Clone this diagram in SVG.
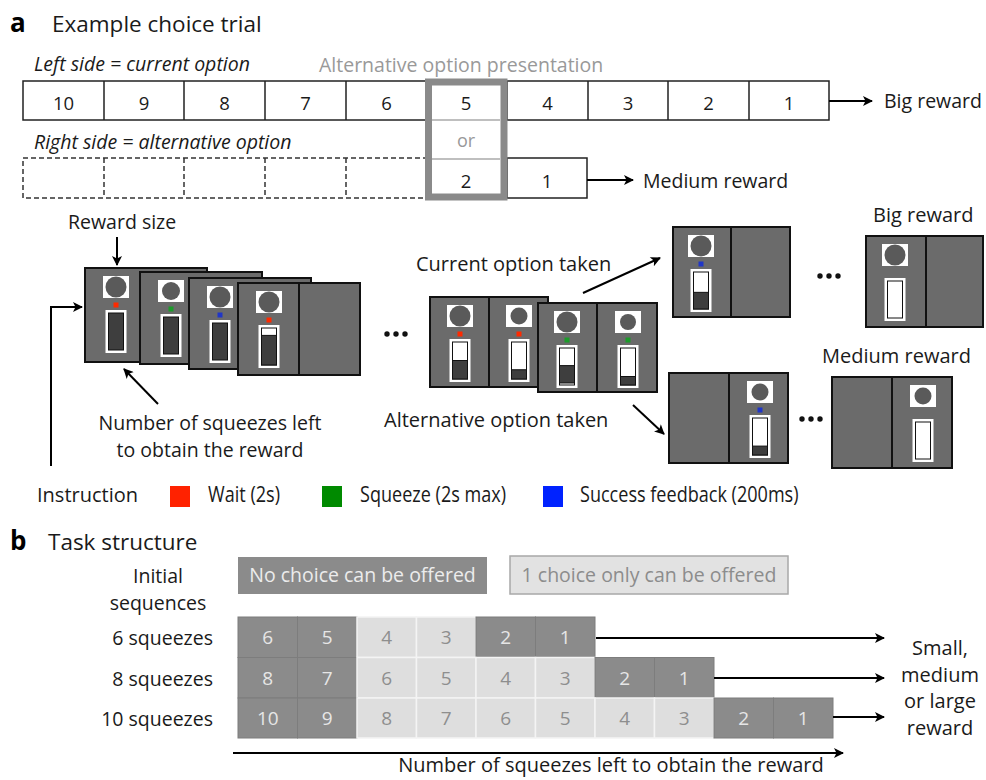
<svg xmlns="http://www.w3.org/2000/svg" width="986" height="780" viewBox="0 0 986 780">
<defs>
<style>
text{font-family:"Open Sans","Noto Sans",sans-serif;fill:#1a1a1a}
.h{font-size:22.5px}
.lab{font-size:26px;font-weight:bold;fill:#000}
.t{font-size:20px}
.it{font-size:19.5px;font-style:italic}
.num{font-size:18.5px;text-anchor:middle}
.gray{fill:#999}
.cell{fill:#fff;stroke:#222;stroke-width:1.5}
.dash{fill:none;stroke:#333;stroke-width:1.5;stroke-dasharray:5 3}
.scr{fill:#6b6b6b;stroke:#111;stroke-width:2}
.div{stroke:#111;stroke-width:2}
.sq{fill:#fff}
.ci{fill:#5a5a5a}
.gw{fill:#fff}
.gi{fill:#fff;stroke:#111;stroke-width:1}
.gd{fill:#3e3e3e;stroke:#111;stroke-width:1}
.red{fill:#ff2a00}
.grn{fill:#1c9c2a}
.blu{fill:#2036c8}
.arr{fill:none;stroke:#000;stroke-width:2;marker-end:url(#ah)}
.dk{fill:#8b8b8b;stroke:#7d7d7d;stroke-width:1}
.lt{fill:#dedede;stroke:#f4f4f4;stroke-width:1.5}
.dkt{font-size:19px;fill:#e6e6e6;text-anchor:middle}
.ltt{font-size:19px;fill:#8e8e8e;text-anchor:middle}
.leg{font-size:21px}
</style>
<marker id="ah" viewBox="0 0 10 10" refX="9" refY="5" markerWidth="12" markerHeight="10" orient="auto" markerUnits="userSpaceOnUse">
<path d="M0,0 L10,5 L0,10 L2.5,5 z" fill="#000"/>
</marker>
</defs>
<rect width="986" height="780" fill="#fff"/>

<!-- headings -->
<text class="lab" x="10" y="32">a</text>
<text class="h" x="52" y="32">Example choice trial</text>
<text class="it" x="34" y="71">Left side = current option</text>
<text class="t gray" x="319" y="72" style="font-size:19.5px">Alternative option presentation</text>
<text class="it" x="34" y="149">Right side = alternative option</text>

<!-- top row: current option -->
<g id="current-option">
<rect class="cell" x="23" y="81" width="806" height="39"/>
<path d="M104,81V120M184,81V120M265,81V120M346,81V120M427,81V120M507,81V120M588,81V120M668,81V120M749,81V120" stroke="#222" stroke-width="1.5"/>
<text class="num" x="63.5" y="110">10</text>
<text class="num" x="144" y="110">9</text>
<text class="num" x="224.5" y="110">8</text>
<text class="num" x="305.5" y="110">7</text>
<text class="num" x="386.5" y="110">6</text>
<text class="num" x="547.5" y="110">4</text>
<text class="num" x="628" y="110">3</text>
<text class="num" x="708.5" y="110">2</text>
<text class="num" x="789" y="110">1</text>
</g>

<!-- second row: alternative option -->
<g id="alternative-option">
<rect class="dash" x="23" y="158" width="404" height="40"/>
<path class="dash" d="M104,158V198M184,158V198M265,158V198M346,158V198"/>
<rect class="cell" x="507" y="158" width="80" height="40"/>
<text class="num" x="547" y="188">1</text>
</g>

<!-- alternative presentation frame -->
<g id="alt-frame">
<rect x="430" y="84" width="74" height="112" fill="#fff"/>
<path d="M432,120H500M432,159H500" stroke="#aaa" stroke-width="1.5"/>
<rect x="428.5" y="82" width="75.5" height="115" fill="none" stroke="#8a8a8a" stroke-width="7"/>
<text class="num" x="466" y="110">5</text>
<text class="num gray" x="466" y="147" style="font-size:18px">or</text>
<text class="num" x="466" y="188">2</text>
</g>

<text class="t" x="884" y="108" style="font-size:19.5px">Big reward</text>
<text class="t" x="643" y="188" style="font-size:19.5px">Medium reward</text>

<!-- middle labels -->
<text class="t" x="68" y="229" style="font-size:19.5px">Reward size</text>
<text class="t" x="210" y="430" text-anchor="middle" style="font-size:19.5px">Number of squeezes left</text>
<text class="t" x="210" y="457" text-anchor="middle" style="font-size:19.5px">to obtain the reward</text>
<text class="t" x="416" y="271">Current option taken</text>
<text class="t" x="384" y="427">Alternative option taken</text>
<text class="t" x="873" y="222">Big reward</text>
<text class="t" x="822" y="363">Medium reward</text>

<!-- left stack of screens -->
<g id="screen-1">
<rect class="scr" x="85" y="268" width="122" height="94"/>
<rect class="sq" x="103" y="276" width="26" height="22"/><circle class="ci" cx="116" cy="287" r="10.5"/>
<rect class="red" x="113.5" y="302.5" width="5" height="5"/>
<rect class="gw" x="105.5" y="310" width="21" height="43"/><rect class="gd" x="108.5" y="313" width="15" height="37"/>
</g>
<g id="screen-2">
<rect class="scr" x="140" y="272" width="122" height="92"/>
<rect class="sq" x="158" y="280" width="26" height="22"/><circle class="ci" cx="171" cy="291" r="9"/>
<rect class="grn" x="168.5" y="306.5" width="5" height="5"/>
<rect class="gw" x="160.5" y="314" width="21" height="43"/><rect class="gd" x="163.5" y="317" width="15" height="37"/>
</g>
<g id="screen-3">
<rect class="scr" x="189" y="278" width="122" height="91"/>
<rect class="sq" x="207" y="286" width="26" height="22"/><circle class="ci" cx="220" cy="297" r="10.5"/>
<rect class="blu" x="217.5" y="312.5" width="5" height="5"/>
<rect class="gw" x="209.5" y="320" width="21" height="43"/><rect class="gd" x="212.5" y="323" width="15" height="37"/>
</g>
<g id="screen-4">
<rect class="scr" x="238" y="283" width="122" height="92"/>
<line class="div" x1="299" y1="283" x2="299" y2="375"/>
<rect class="sq" x="256" y="291" width="26" height="22"/><circle class="ci" cx="269" cy="302" r="10.5"/>
<rect class="red" x="266.5" y="317.5" width="5" height="5"/>
<rect class="gw" x="258.5" y="325" width="21" height="43"/><rect class="gi" x="261.5" y="328" width="15" height="37"/>
<rect class="gd" x="261.5" y="335.4" width="15" height="29.6"/>
</g>

<!-- ellipsis left -->
<g id="ellipsis-1" fill="#111"><circle cx="387" cy="334" r="2.7"/><circle cx="396" cy="334" r="2.7"/><circle cx="405" cy="334" r="2.7"/></g>

<!-- choice screens -->
<g id="choice-wait">
<rect class="scr" x="430" y="297" width="118" height="90"/>
<line class="div" x1="489" y1="297" x2="489" y2="387"/>
<rect class="sq" x="447" y="305" width="26" height="22"/><circle class="ci" cx="460" cy="316" r="10.5"/>
<rect class="red" x="457.5" y="331.5" width="5" height="5"/>
<rect class="gw" x="449.5" y="339" width="21" height="43"/><rect class="gi" x="452.5" y="342" width="15" height="37"/>
<rect class="gd" x="452.5" y="360.5" width="15" height="18.5"/>
<rect class="sq" x="506" y="305" width="26" height="22"/><circle class="ci" cx="519" cy="316" r="8.5"/>
<rect class="red" x="516.5" y="331.5" width="5" height="5"/>
<rect class="gw" x="508.5" y="339" width="21" height="43"/><rect class="gi" x="511.5" y="342" width="15" height="37"/>
<rect class="gd" x="511.5" y="369.75" width="15" height="9.25"/>
</g>
<g id="choice-squeeze">
<rect class="scr" x="538" y="303" width="119" height="89"/>
<line class="div" x1="597" y1="303" x2="597" y2="392"/>
<rect class="sq" x="554" y="311" width="26" height="22"/><circle class="ci" cx="567" cy="322" r="10.5"/>
<rect class="grn" x="564.5" y="337.5" width="5" height="5"/>
<rect class="gw" x="556.5" y="345" width="21" height="43"/><rect class="gi" x="559.5" y="348" width="15" height="37"/>
<rect class="gd" x="559.5" y="365.6" width="15" height="17.4"/>
<rect class="sq" x="615" y="311" width="26" height="22"/><circle class="ci" cx="628" cy="322" r="8"/>
<rect class="grn" x="625.5" y="337.5" width="5" height="5"/>
<rect class="gw" x="617.5" y="345" width="21" height="43"/><rect class="gi" x="620.5" y="348" width="15" height="37"/>
<rect class="gd" x="620.5" y="376.5" width="15" height="8.5"/>
</g>

<!-- current option path -->
<g id="current-success">
<rect class="scr" x="673" y="227" width="117" height="90"/>
<line class="div" x1="731" y1="227" x2="731" y2="317"/>
<rect class="sq" x="688" y="235" width="26" height="22"/><circle class="ci" cx="701" cy="246" r="10.5"/>
<rect class="blu" x="698.5" y="261.5" width="5" height="5"/>
<rect class="gw" x="690.5" y="269" width="21" height="43"/><rect class="gi" x="693.5" y="272" width="15" height="37"/>
<rect class="gd" x="693.5" y="292.35" width="15" height="16.65"/>
</g>
<g id="ellipsis-2" fill="#111"><circle cx="820" cy="276" r="2.7"/><circle cx="829" cy="276" r="2.7"/><circle cx="838" cy="276" r="2.7"/></g>
<g id="big-reward-screen">
<rect class="scr" x="866" y="236" width="117" height="91"/>
<line class="div" x1="926" y1="236" x2="926" y2="327"/>
<rect class="sq" x="882" y="244" width="26" height="22"/><circle class="ci" cx="895" cy="255" r="10.5"/>
<rect class="gw" x="884.5" y="278" width="21" height="43"/><rect class="gi" x="887.5" y="281" width="15" height="37"/>
</g>

<!-- alternative option path -->
<g id="alternative-success">
<rect class="scr" x="669" y="373" width="119" height="90"/>
<line class="div" x1="729" y1="373" x2="729" y2="463"/>
<rect class="sq" x="747" y="381" width="26" height="22"/><circle class="ci" cx="760" cy="392" r="8.5"/>
<rect class="blu" x="757.5" y="407.5" width="5" height="5"/>
<rect class="gw" x="749.5" y="415" width="21" height="43"/><rect class="gi" x="752.5" y="418" width="15" height="37"/>
<rect class="gd" x="752.5" y="446.1" width="15" height="8.9"/>
</g>
<g id="ellipsis-3" fill="#111"><circle cx="802" cy="419" r="2.7"/><circle cx="811" cy="419" r="2.7"/><circle cx="820" cy="419" r="2.7"/></g>
<g id="medium-reward-screen">
<rect class="scr" x="832" y="377" width="120" height="91"/>
<line class="div" x1="892" y1="377" x2="892" y2="468"/>
<rect class="sq" x="910" y="385" width="26" height="22"/><circle class="ci" cx="923" cy="396" r="8.5"/>
<rect class="gw" x="912.5" y="419" width="21" height="43"/><rect class="gi" x="915.5" y="422" width="15" height="37"/>
</g>

<!-- legend -->
<g id="legend">
<text class="t" x="37" y="502">Instruction</text>
<rect x="170" y="486" width="20" height="21" fill="#ff2200"/>
<text class="leg" transform="translate(208,502) scale(0.86,1)">Wait (2s)</text>
<rect x="322" y="486" width="20" height="21" fill="#008a00"/>
<text class="leg" transform="translate(360,502) scale(0.86,1)">Squeeze (2s max)</text>
<rect x="543" y="486" width="20" height="21" fill="#0022ff"/>
<text class="leg" transform="translate(580,502) scale(0.86,1)">Success feedback (200ms)</text>
</g>

<!-- section b -->
<text class="lab" x="10" y="550">b</text>
<text class="h" x="48" y="550">Task structure</text>
<text class="t" x="158" y="583" text-anchor="middle" style="font-size:19.5px">Initial</text>
<text class="t" x="158" y="610" text-anchor="middle" style="font-size:19.5px">sequences</text>
<text class="t" x="213" y="645" text-anchor="end" style="font-size:19.5px">6 squeezes</text>
<text class="t" x="213" y="686" text-anchor="end" style="font-size:19.5px">8 squeezes</text>
<text class="t" x="213" y="726" text-anchor="end" style="font-size:19.5px">10 squeezes</text>

<g id="key-no-choice">
<rect x="238" y="557" width="249" height="37" fill="#8b8b8b"/>
<text x="362.5" y="582" text-anchor="middle" style="font-size:19.5px;fill:#ececec">No choice can be offered</text>
</g>
<g id="key-one-choice">
<rect x="510" y="556" width="278" height="38" fill="#e2e2e2" stroke="#a8a8a8" stroke-width="1.5"/>
<text x="649" y="582" text-anchor="middle" style="font-size:19.5px;fill:#8c8c8c">1 choice only can be offered</text>
</g>

<g id="row-6">
<rect class="dk" x="238" y="617" width="59.5" height="40.5"/><rect class="dk" x="297.5" y="617" width="59.5" height="40.5"/>
<rect class="lt" x="357" y="617" width="59.5" height="40.5"/><rect class="lt" x="416.5" y="617" width="59.5" height="40.5"/>
<rect class="dk" x="476" y="617" width="59.5" height="40.5"/><rect class="dk" x="535.5" y="617" width="59.5" height="40.5"/>
<text class="dkt" x="267.75" y="644">6</text><text class="dkt" x="327.25" y="644">5</text>
<text class="ltt" x="386.75" y="644">4</text><text class="ltt" x="446.25" y="644">3</text>
<text class="dkt" x="505.75" y="644">2</text><text class="dkt" x="565.25" y="644">1</text>
</g>
<g id="row-8">
<rect class="dk" x="238" y="657.5" width="59.5" height="40.5"/><rect class="dk" x="297.5" y="657.5" width="59.5" height="40.5"/>
<rect class="lt" x="357" y="657.5" width="59.5" height="40.5"/><rect class="lt" x="416.5" y="657.5" width="59.5" height="40.5"/>
<rect class="lt" x="476" y="657.5" width="59.5" height="40.5"/><rect class="lt" x="535.5" y="657.5" width="59.5" height="40.5"/>
<rect class="dk" x="595" y="657.5" width="59.5" height="40.5"/><rect class="dk" x="654.5" y="657.5" width="59.5" height="40.5"/>
<text class="dkt" x="267.75" y="685">8</text><text class="dkt" x="327.25" y="685">7</text>
<text class="ltt" x="386.75" y="685">6</text><text class="ltt" x="446.25" y="685">5</text>
<text class="ltt" x="505.75" y="685">4</text><text class="ltt" x="565.25" y="685">3</text>
<text class="dkt" x="624.75" y="685">2</text><text class="dkt" x="684.25" y="685">1</text>
</g>
<g id="row-10">
<rect class="dk" x="238" y="698" width="59.5" height="40"/><rect class="dk" x="297.5" y="698" width="59.5" height="40"/>
<rect class="lt" x="357" y="698" width="59.5" height="40"/><rect class="lt" x="416.5" y="698" width="59.5" height="40"/>
<rect class="lt" x="476" y="698" width="59.5" height="40"/><rect class="lt" x="535.5" y="698" width="59.5" height="40"/>
<rect class="lt" x="595" y="698" width="59.5" height="40"/><rect class="lt" x="654.5" y="698" width="59.5" height="40"/>
<rect class="dk" x="714" y="698" width="59.5" height="40"/><rect class="dk" x="773.5" y="698" width="59.5" height="40"/>
<text class="dkt" x="267.75" y="725">10</text><text class="dkt" x="327.25" y="725">9</text>
<text class="ltt" x="386.75" y="725">8</text><text class="ltt" x="446.25" y="725">7</text>
<text class="ltt" x="505.75" y="725">6</text><text class="ltt" x="565.25" y="725">5</text>
<text class="ltt" x="624.75" y="725">4</text><text class="ltt" x="684.25" y="725">3</text>
<text class="dkt" x="743.75" y="725">2</text><text class="dkt" x="803.25" y="725">1</text>
</g>

<text class="t" x="940" y="655" text-anchor="middle">Small,</text>
<text class="t" x="940" y="681.5" text-anchor="middle">medium</text>
<text class="t" x="940" y="708" text-anchor="middle">or large</text>
<text class="t" x="940" y="734.5" text-anchor="middle">reward</text>
<text class="t" x="611" y="772" text-anchor="middle" style="font-size:20px">Number of squeezes left to obtain the reward</text>

<!-- connectors -->
<g id="connectors">
<line class="arr" x1="829" y1="101" x2="872" y2="101"/>
<line class="arr" x1="587" y1="180" x2="633" y2="180"/>
<line class="arr" x1="117" y1="237" x2="117" y2="265"/>
<line class="arr" x1="158" y1="404" x2="124" y2="369"/>
<polyline class="arr" points="51,466 51,307 82,307"/>
<line class="arr" x1="583" y1="293" x2="660" y2="258"/>
<line class="arr" x1="633" y1="405" x2="664" y2="434"/>
<line class="arr" x1="596" y1="638" x2="884" y2="638"/>
<line class="arr" x1="714" y1="678" x2="884" y2="678"/>
<line class="arr" x1="833" y1="717" x2="884" y2="717"/>
<line class="arr" x1="233" y1="753" x2="843" y2="753"/>
</g>
</svg>
